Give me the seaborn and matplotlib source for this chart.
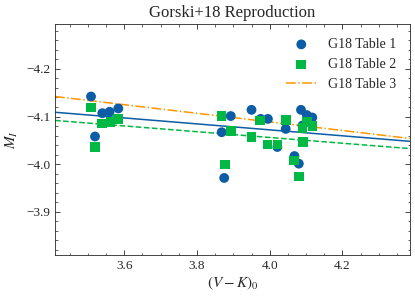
import numpy as np
import pandas as pd
import matplotlib
matplotlib.use("Agg")
import matplotlib.pyplot as plt
import seaborn as sns
from matplotlib.ticker import MultipleLocator

# G18 Table 1 (V-K)_0 and M_I
t1_vk = [3.509, 3.520, 3.540, 3.560, 3.584, 3.868, 3.875, 3.893, 3.950, 3.975,
         3.995, 4.021, 4.044, 4.068, 4.080, 4.086, 4.102, 4.117, 4.090]
t1_mi = [-4.142, -4.058, -4.107, -4.110, -4.117, -4.067, -3.971, -4.101, -4.114, -4.095,
         -4.095, -4.036, -4.074, -4.017, -4.001, -4.114, -4.103, -4.098, -4.081]

# G18 Table 2
t2_vk = [3.509, 3.520, 3.540, 3.563, 3.584, 3.868, 3.877, 3.893, 3.950, 3.973,
         3.994, 4.021, 4.044, 4.067, 4.080, 4.090, 4.091, 4.103, 4.118]
t2_mi = [-4.119, -4.036, -4.085, -4.088, -4.095, -4.101, -3.999, -4.070, -4.057, -4.092,
         -4.041, -4.041, -4.093, -4.008, -3.974, -4.076, -4.046, -4.088, -4.080]

# linear relations: M_I = a + b * ((V-K)_0 - 4.0)
fit_names = ["fit1", "fit2", "G18 Table 3"]
fit_a = [-4.072, -4.056, -4.0887]
fit_b = [0.0626, 0.0606, 0.0904]

blue, green, orange = "#0C5DA5", "#00B945", "#FF9500"

sns.set_style("ticks")
plt.rcParams["font.family"] = ["Liberation Serif", "DejaVu Serif"]
plt.rcParams["mathtext.fontset"] = "stix"
plt.rcParams["xtick.direction"] = "in"
plt.rcParams["ytick.direction"] = "in"

fig = plt.figure(figsize=(4.15, 2.98), dpi=100)
ax = fig.add_axes([0.1325, 0.144, 0.855, 0.775])

d1 = pd.DataFrame({"vk": t1_vk, "mi": t1_mi})
d2 = pd.DataFrame({"vk": t2_vk, "mi": t2_mi})
sns.scatterplot(data=d1, x="vk", y="mi", ax=ax, color=blue, marker="o", s=50,
                edgecolor="none", label="G18 Table 1", zorder=3)
sns.scatterplot(data=d2, x="vk", y="mi", ax=ax, color=green, marker="s", s=48,
                edgecolor="none", label="G18 Table 2", zorder=4)

xx = np.linspace(3.41, 4.385, 50)
styles = [(blue, "-", None), (green, "--", None), (orange, "-.", "G18 Table 3")]
for a, b, (c, ls, lab) in zip(fit_a, fit_b, styles):
    ax.plot(xx, a + b * (xx - 4.0), color=c, ls=ls, lw=1.1, label=lab, zorder=2)

ax.set_xlim(3.41, 4.385)
ax.set_ylim(-3.809, -4.294)
ax.xaxis.set_major_locator(MultipleLocator(0.2))
ax.xaxis.set_minor_locator(MultipleLocator(0.05))
ax.yaxis.set_major_locator(MultipleLocator(0.1))
ax.yaxis.set_minor_locator(MultipleLocator(0.02))
ax.tick_params(which="both", top=True, right=True, direction="in", labelsize=9.5)
ax.tick_params(which="major", length=3.5, width=0.6)
ax.tick_params(which="minor", length=1.8, width=0.5)
for sp in ax.spines.values():
    sp.set_linewidth(0.6)

ax.set_xlabel(r"$(V-K)_0$", fontsize=11, labelpad=2)
ax.set_ylabel(r"$M_I$", fontsize=11, labelpad=4)
ax.set_title("Gorski+18 Reproduction", fontsize=12, pad=5)

h, l = ax.get_legend_handles_labels()
keep = [l.index(n) for n in ["G18 Table 1", "G18 Table 2", "G18 Table 3"]]
ax.legend([h[i] for i in keep], [l[i] for i in keep], loc="upper right",
          frameon=False, fontsize=10, handlelength=2.2, borderaxespad=0.6)

fig.savefig("out.png", dpi=100)
